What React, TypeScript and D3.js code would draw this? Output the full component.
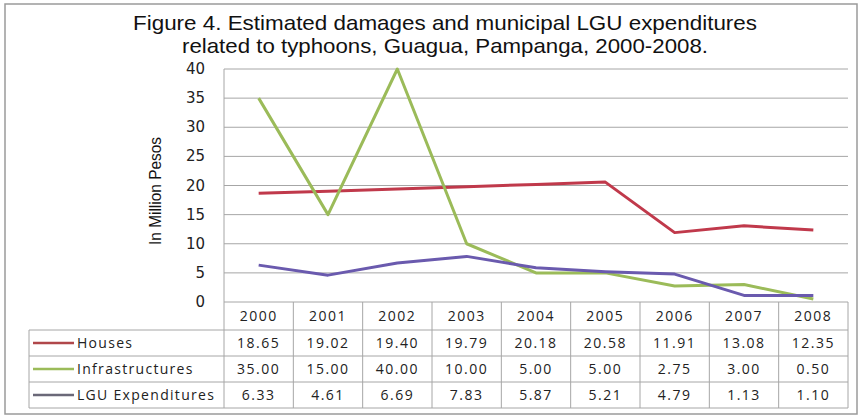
import React from "react";
import * as d3 from "d3";

const years = ["2000", "2001", "2002", "2003", "2004", "2005", "2006", "2007", "2008"];
const houses = [18.65, 19.02, 19.4, 19.79, 20.18, 20.58, 11.91, 13.08, 12.35];
const infrastructures = [35.0, 15.0, 40.0, 10.0, 5.0, 5.0, 2.75, 3.0, 0.5];
const lguExpenditures = [6.33, 4.61, 6.69, 7.83, 5.87, 5.21, 4.79, 1.13, 1.1];
const yTicks = [0, 5, 10, 15, 20, 25, 30, 35, 40];
const seriesNames = ["Houses", "Infrastructures", "LGU Expenditures"];
const seriesColors = ["#C0394B", "#9BBB59", "#6A5AAE"];
const legendColors = ["#B0474A", "#9BBB59", "#6A6878"];

export default function App() {
  const W = 864, H = 416;
  const plotL = 224, plotR = 848, plotT = 69, plotB = 302;
  const x = d3.scaleBand<string>().domain(years).range([plotL, plotR]);
  const y = d3.scaleLinear().domain([0, 40]).range([plotB, plotT]);
  const cx = (yr: string) => (x(yr) as number) + x.bandwidth() / 2;
  const series = [houses, infrastructures, lguExpenditures];
  const line = d3
    .line<number>()
    .x((_, i) => cx(years[i]))
    .y((d) => y(d));

  const tableL = 29;
  const rowTops = [330, 356, 382, 408];
  const grid = "#A6A6A6";
  const tFont = "'Open Sans', sans-serif";

  return (
    <svg width={W} height={H} style={{ position: "absolute", left: 0, top: 0, background: "#fff" }}>
      <rect x={0} y={0} width={W} height={H} fill="#fff" />
      <rect x={5} y={4} width={852} height={410} fill="none" stroke="#9a9a9a" strokeWidth={1.5} />
      <text x={445} y={30} textAnchor="middle" fontFamily="'Liberation Sans', Arial, sans-serif" fontSize={21} fill="#111" textLength={624} lengthAdjust="spacingAndGlyphs">
        Figure 4. Estimated damages and municipal LGU expenditures
      </text>
      <text x={445} y={53} textAnchor="middle" fontFamily="'Liberation Sans', Arial, sans-serif" fontSize={21} fill="#111" textLength={526} lengthAdjust="spacingAndGlyphs">
        related to typhoons, Guagua, Pampanga, 2000-2008.
      </text>
      {/* gridlines */}
      {yTicks.map((t) => (
        <line key={"g" + t} x1={plotL} x2={plotR} y1={y(t)} y2={y(t)} stroke={grid} strokeWidth={1} />
      ))}
      <line x1={plotL} x2={plotL} y1={plotT} y2={plotB} stroke={grid} />
      {yTicks.map((t) => (
        <text key={"t" + t} x={205} y={y(t) + 5} textAnchor="end" fontFamily="'DejaVu Sans', sans-serif" fontSize={15} fill="#222">
          {t}
        </text>
      ))}
      <text
        transform={`translate(161,191) rotate(-90)`}
        textAnchor="middle"
        fontFamily="'Liberation Sans', Arial, sans-serif"
        fontSize={17}
        fill="#111"
        textLength={108}
        lengthAdjust="spacingAndGlyphs"
      >
        In Million Pesos
      </text>
      {/* lines */}
      {series.map((s, i) => (
        <path key={"l" + i} d={line(s) as string} fill="none" stroke={seriesColors[i]} strokeWidth={3} strokeLinejoin="round" />
      ))}
      {/* data table */}
      <g stroke={grid} strokeWidth={1}>
        {years.map((yr) => (
          <line key={"v" + yr} x1={x(yr) as number} x2={x(yr) as number} y1={plotB} y2={rowTops[3]} />
        ))}
        <line x1={plotR} x2={plotR} y1={plotB} y2={rowTops[3]} />
        <line x1={tableL} x2={tableL} y1={rowTops[0]} y2={rowTops[3]} />
        {rowTops.map((r) => (
          <line key={"h" + r} x1={tableL} x2={plotR} y1={r} y2={r} />
        ))}
      </g>
      {years.map((yr) => (
        <text key={"yr" + yr} x={cx(yr)} y={321} textAnchor="middle" fontFamily={tFont} fontSize={14} letterSpacing={1.5} fill="#222">
          {yr}
        </text>
      ))}
      {series.map((s, i) => (
        <g key={"row" + i}>
          <line x1={33} x2={74} y1={rowTops[i] + 13} y2={rowTops[i] + 13} stroke={legendColors[i]} strokeWidth={2.5} />
          <text x={77} y={rowTops[i] + 18} fontFamily={tFont} fontSize={14} letterSpacing={1.3} fill="#222">
            {seriesNames[i]}
          </text>
          {s.map((v, j) => (
            <text key={j} x={cx(years[j])} y={rowTops[i] + 18} textAnchor="middle" fontFamily={tFont} fontSize={14} letterSpacing={1.5} fill="#222">
              {v.toFixed(2)}
            </text>
          ))}
        </g>
      ))}
    </svg>
  );
}
